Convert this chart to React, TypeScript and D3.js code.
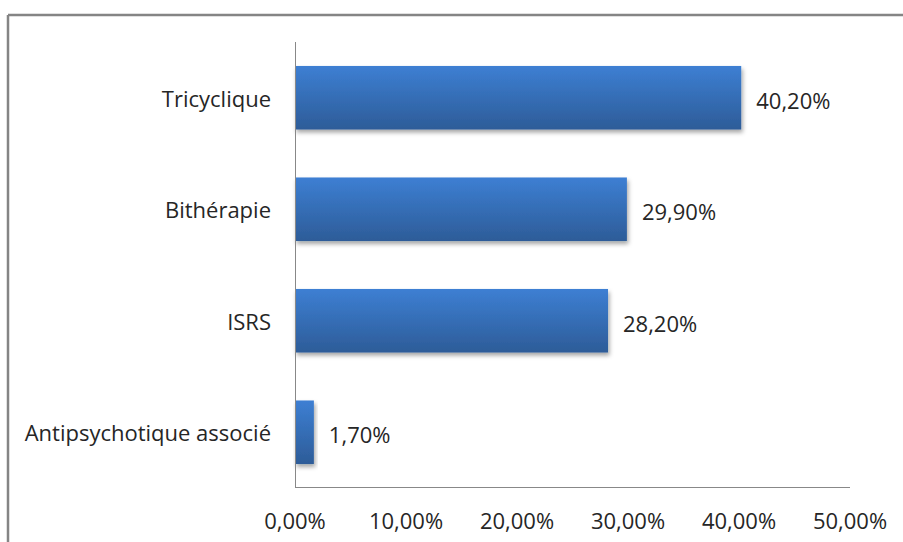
import React from "react";
import * as d3 from "d3";

const categories = ["Tricyclique", "Bithérapie", "ISRS", "Antipsychotique associé"];
const values = [40.2, 29.9, 28.2, 1.7];
const valueLabels = ["40,20%", "29,90%", "28,20%", "1,70%"];
const tickValues = [0, 10, 20, 30, 40, 50];
const tickLabels = ["0,00%", "10,00%", "20,00%", "30,00%", "40,00%", "50,00%"];

const W = 903;
const H = 542;
const plot = { left: 295, right: 850, top: 42, bottom: 488 };
const FONT = "'Open Sans', sans-serif";
const TEXT = "#262626";
const FS = 22;

export default function App() {
  const x = d3.scaleLinear().domain([0, 50]).range([plot.left, plot.right]);
  const y = d3
    .scaleBand<string>()
    .domain(categories)
    .range([plot.top, plot.bottom])
    .paddingInner(0.43)
    .paddingOuter(0.215);

  return (
    <svg
      width={W}
      height={H}
      style={{ position: "absolute", left: 0, top: 0, background: "#fff" }}
    >
      <defs>
        <linearGradient id="barGrad" x1="0" y1="0" x2="0" y2="1">
          <stop offset="0%" stopColor="#3d7fd3" />
          <stop offset="100%" stopColor="#2d5c98" />
        </linearGradient>
        <filter id="shadow" x="-10%" y="-20%" width="130%" height="160%">
          <feDropShadow dx="1.5" dy="3" stdDeviation="2" floodColor="#000" floodOpacity="0.35" />
        </filter>
      </defs>
      <rect x={0} y={0} width={W} height={H} fill="#fff" />
      {/* outer frame */}
      <line x1={8} y1={15} x2={W} y2={15} stroke="#858585" strokeWidth={2.5} />
      <line x1={8} y1={15} x2={8} y2={H} stroke="#858585" strokeWidth={2.5} />

      {/* bars */}
      {categories.map((c, i) => (
        <rect
          key={c}
          x={x(0)}
          y={y(c)!}
          width={x(values[i]) - x(0)}
          height={y.bandwidth()}
          fill="url(#barGrad)"
          filter="url(#shadow)"
        />
      ))}

      {/* axes */}
      <line x1={plot.left + 0.5} y1={plot.top} x2={plot.left + 0.5} y2={plot.bottom} stroke="#888" strokeWidth={1} />
      <line x1={plot.left} y1={plot.bottom - 0.5} x2={plot.right} y2={plot.bottom - 0.5} stroke="#888" strokeWidth={1} />

      {/* category labels */}
      {categories.map((c) => (
        <text
          key={c}
          x={271}
          y={y(c)! + y.bandwidth() / 2}
          textAnchor="end"
          dominantBaseline="central"
          fontFamily={FONT}
          fontSize={FS}
          fill={TEXT}
        >
          {c}
        </text>
      ))}

      {/* value labels */}
      {categories.map((c, i) => (
        <text
          key={c}
          x={x(values[i]) + 15}
          y={y(c)! + y.bandwidth() / 2 + 2}
          textAnchor="start"
          dominantBaseline="central"
          fontFamily={FONT}
          fontSize={FS}
          fill={TEXT}
        >
          {valueLabels[i]}
        </text>
      ))}

      {/* tick labels */}
      {tickValues.map((t, i) => (
        <text
          key={t}
          x={x(t)}
          y={520}
          textAnchor="middle"
          dominantBaseline="central"
          fontFamily={FONT}
          fontSize={FS}
          fill={TEXT}
        >
          {tickLabels[i]}
        </text>
      ))}
    </svg>
  );
}
